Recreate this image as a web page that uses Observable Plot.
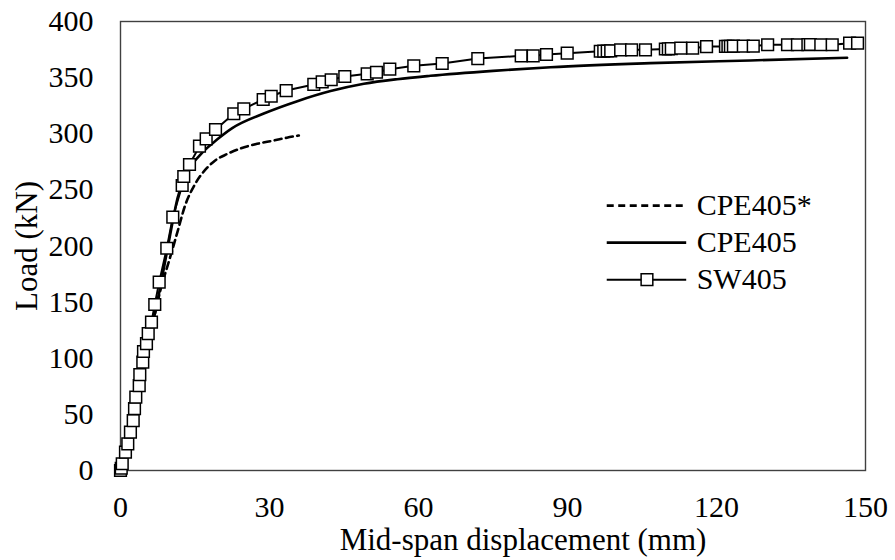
<!DOCTYPE html>
<html>
<head>
<meta charset="utf-8">
<script src="https://cdn.jsdelivr.net/npm/d3@7"></script>
<script src="https://cdn.jsdelivr.net/npm/@observablehq/plot@0.6"></script>
<style>
  html, body { margin: 0; padding: 0; background: #fff; }
  #chart svg, #chart svg text { font-family: "Liberation Serif", "Times New Roman", serif !important; }
</style>
</head>
<body>
<div id="chart"></div>
<script>
// ---- data ----
const xTicks = [0, 30, 60, 90, 120, 150];
const yTicks = [0, 50, 100, 150, 200, 250, 300, 350, 400];

const seriesNames = ["CPE405*", "CPE405", "SW405"];

const cpeStarX = [0, 3, 6, 8, 10, 11.5, 13, 15, 17.5, 19, 21.5, 24.2, 27.5, 30.9, 33.5, 35.9];
const cpeStarY = [0, 55, 120, 160, 190, 213, 236, 255, 270, 276, 282, 287, 291, 294, 296.5, 298.4];

const cpeX = [0, 2, 4, 6, 8, 10, 11.5, 13, 16, 19.5, 22.5, 28.85, 35.6, 42.3, 49, 55.7, 62.4, 75, 86.6, 106.7, 126.8, 146.3];
const cpeY = [0, 32, 75, 120, 163, 210, 243, 262, 281, 295, 305, 318, 329, 338, 344.5, 348.6, 351.6, 356, 359.3, 362.9, 365.3, 367.7];

const swX = [0, 0.15, 0.35, 1.0, 1.47, 2.0, 2.56, 2.82, 3.08, 3.77, 3.89, 4.49, 4.63, 5.23, 5.58, 6.24, 6.9, 7.79, 9.32, 10.53, 12.42, 12.74, 13.89, 15.9, 17.25, 19.13, 22.81, 24.83, 28.73, 30.34, 33.36, 38.92, 40.61, 42.42, 45.16, 49.67, 51.54, 54.22, 59.05, 64.77, 71.94, 80.68, 83.09, 85.77, 89.94, 96.6, 97.3, 98.0, 98.7, 100.7, 102.9, 105.7, 109.7, 110.3, 110.9, 112.8, 115.2, 118.0, 121.8, 122.3, 122.8, 123.4, 125.4, 127.4, 130.3, 134.3, 136.3, 138.4, 138.9, 141.0, 143.3, 146.8, 148.4];
const swY = [0, 2, 6, 16.3, 23.8, 34.1, 44.5, 55.2, 65.3, 75.7, 85.5, 96.5, 106, 113.1, 122, 132.1, 147.9, 167.8, 198, 225.7, 253.9, 261.9, 272.6, 288.9, 295.5, 303.8, 317.8, 322.2, 330.5, 333.4, 338.5, 343.9, 346.3, 348.1, 351, 353.4, 354.8, 357.5, 360.5, 362.6, 367, 369.4, 369.4, 370.6, 371.8, 373.5, 373.6, 373.7, 373.8, 374.8, 374.8, 374.8, 375.5, 375.6, 375.8, 376.2, 376.2, 377.7, 377.8, 377.8, 377.9, 378, 378, 378, 379.3, 379.3, 379.3, 379.4, 379.5, 379.3, 379.3, 380.7, 380.7];

// ---- build tables ----
const zip = (xs, ys) => xs.map((x, i) => ({x, y: ys[i]}));
const cpeStar = zip(cpeStarX, cpeStarY);
const cpe = zip(cpeX, cpeY);
const sw = zip(swX, swY);

// legend placement (data units inside the frame)
const legX1 = 98, legX2 = 114, legTextX = 116;
const legY = [236, 203, 170];
const legend = seriesNames.map((name, i) => ({name, y: legY[i]}));

const font = "Liberation Serif, Times New Roman, serif";
const ink = "#000";
const fs = 30;
const fsTitle = 31;

const chart = Plot.plot({
  width: 895,
  height: 560,
  marginLeft: 120,
  marginRight: 30,
  marginTop: 21,
  marginBottom: 90,
  style: {fontFamily: font, fontSize: fs + "px", color: ink, background: "#fff"},
  x: {domain: [0, 150], ticks: xTicks, tickSize: 0, tickPadding: 25, label: null},
  y: {domain: [0, 400], ticks: yTicks, tickSize: 0, tickPadding: 27, label: null},
  marks: [
    Plot.frame({stroke: "#404040", strokeWidth: 1.4}),
    Plot.line(cpeStar, {x: "x", y: "y", stroke: ink, strokeWidth: 2.6, strokeDasharray: "7,4.5", curve: "monotone-x"}),
    Plot.line(cpe, {x: "x", y: "y", stroke: ink, strokeWidth: 2.6, curve: "monotone-x"}),
    Plot.line(sw, {x: "x", y: "y", stroke: ink, strokeWidth: 2}),
    Plot.dot(sw, {x: "x", y: "y", symbol: "square", r: 6.6, fill: "#fff", stroke: ink, strokeWidth: 1.5}),
    // legend
    Plot.ruleY([legend[0]], {y: "y", x1: legX1, x2: legX2, stroke: ink, strokeWidth: 2.6, strokeDasharray: "7,4.5"}),
    Plot.ruleY([legend[1]], {y: "y", x1: legX1, x2: legX2, stroke: ink, strokeWidth: 2.6}),
    Plot.ruleY([legend[2]], {y: "y", x1: legX1, x2: legX2, stroke: ink, strokeWidth: 2}),
    Plot.dot([legend[2]], {x: (legX1 + legX2) / 2, y: "y", symbol: "square", r: 6.6, fill: "#fff", stroke: ink, strokeWidth: 1.5}),
    Plot.text(legend, {x: legTextX, y: "y", text: "name", textAnchor: "start", fill: ink, fontSize: fs, fontFamily: font}),
    // axis titles
    Plot.text(["Mid-span displacement (mm)"], {frameAnchor: "bottom", lineAnchor: "middle", textAnchor: "middle", dy: 70, dx: 30, text: d => d, fill: ink, fontSize: fsTitle, fontFamily: font}),
    Plot.text(["Load (kN)"], {frameAnchor: "left", lineAnchor: "middle", textAnchor: "middle", dx: -93, rotate: -90, text: d => d, fill: ink, fontSize: fsTitle, fontFamily: font})
  ]
});

document.getElementById("chart").appendChild(chart);
</script>
</body>
</html>
